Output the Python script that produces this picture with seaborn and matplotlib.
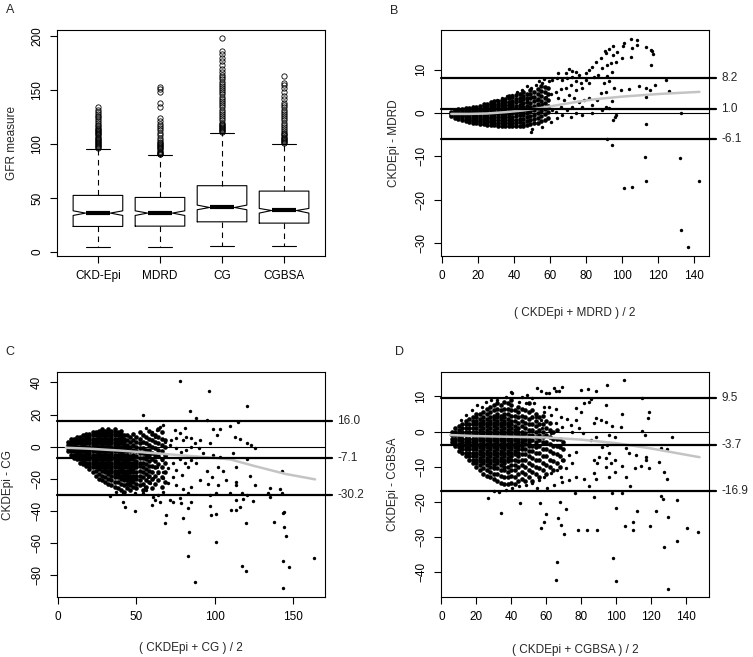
import pandas as pd
import seaborn as sns
import matplotlib.pyplot as plt
from matplotlib import transforms

# ---- panel A : box summaries ----
methods = ["CKD-Epi", "MDRD", "CG", "CGBSA"]
box_q1 = [23.6, 23.9, 27.9, 26.7]
box_med = [36.0, 36.0, 41.2, 38.4]
box_q3 = [52.4, 50.5, 61.4, 56.4]
notch_lo = [33.8, 33.8, 39.1, 36.0]
notch_hi = [38.1, 38.1, 43.4, 40.3]
whisk_lo = [4.7, 5.0, 5.6, 5.9]
whisk_hi = [95.2, 89.9, 110.7, 100.5]
outliers = [
    [96, 97, 98, 99, 100, 101, 102, 103, 104, 105, 106, 107, 108, 109, 110, 111,
     112, 113, 114, 115, 117, 118, 120, 121, 123, 125, 126, 128, 130, 132, 134.5],
    [90.5, 91, 92, 93, 94, 95, 96, 97, 98, 99, 100, 101, 102, 104, 106, 108, 110,
     113, 115, 117, 119, 121, 124, 134, 138, 148, 151, 153],
    [111.5, 112, 113, 114, 115, 116, 117, 118, 119, 120, 122, 124, 126, 128, 130,
     132, 134, 136, 138, 140, 142, 144, 146, 148, 150, 152, 154, 156, 158, 160,
     162, 164, 167, 170, 173, 177, 180, 184, 186, 198.5],
    [101, 102, 103, 104, 105, 106, 107, 108, 109, 110, 112, 114, 116, 118, 120,
     122, 124, 126, 128, 130, 132, 134, 136, 138, 142, 145, 148, 152, 155, 157, 163.5],
]

# ---- panel B : CKDEpi - MDRD ----
b_core = {
    5: [-0.7, -0.2, 0.3],
    7: [-1.1, -0.6, -0.1, 0.4, 0.8],
    9: [-1.4, -0.9, -0.4, 0.1, 0.6, 1.0],
    11: [-1.6, -1.0, -0.5, 0.0, 0.5, 1.0],
    13: [-1.9, -1.3, -0.7, -0.2, 0.3, 0.8, 1.2],
    15: [-2.1, -1.5, -0.9, -0.3, 0.2, 0.7, 1.2],
    17: [-2.3, -1.7, -1.1, -0.5, 0.0, 0.5, 1.0, 1.5],
    19: [-2.4, -1.8, -1.2, -0.6, -0.1, 0.4, 0.9, 1.4],
    21: [-2.5, -1.9, -1.3, -0.7, -0.1, 0.5, 1.0, 1.6],
    23: [-2.6, -2.0, -1.4, -0.8, -0.2, 0.4, 1.0, 1.6, 2.1],
    25: [-2.7, -2.1, -1.4, -0.8, -0.2, 0.4, 1.0, 1.6, 2.2],
    27: [-2.8, -2.1, -1.5, -0.9, -0.3, 0.3, 0.9, 1.5, 2.1, 2.6],
    29: [-2.8, -2.2, -1.5, -0.9, -0.3, 0.3, 0.9, 1.5, 2.1, 2.8],
    31: [-2.9, -2.2, -1.6, -1.0, -0.3, 0.3, 1.0, 1.6, 2.2, 2.9],
    33: [-2.9, -2.3, -1.6, -1.0, -0.3, 0.4, 1.0, 1.7, 2.4, 3.1],
    35: [-3.0, -2.3, -1.6, -0.9, -0.2, 0.5, 1.2, 1.9, 2.6, 3.3],
    37: [-3.0, -2.3, -1.6, -0.9, -0.2, 0.5, 1.2, 1.9, 2.6, 3.4, 4.0],
    39: [-3.0, -2.3, -1.5, -0.8, 0.0, 0.7, 1.4, 2.2, 2.9, 3.6],
    41: [-3.1, -2.3, -1.5, -0.7, 0.1, 0.9, 1.7, 2.5, 3.3, 4.1],
    43: [-2.9, -2.1, -1.3, -0.5, 0.3, 1.1, 1.9, 2.7, 3.5, 4.4],
    45: [-3.0, -2.2, -1.3, -0.4, 0.5, 1.4, 2.3, 3.2, 4.0, 4.8],
    47: [-2.8, -1.9, -1.0, -0.1, 0.8, 1.7, 2.6, 3.5, 4.5],
    49: [-2.6, -1.6, -0.6, 0.4, 1.4, 2.4, 3.4, 4.4, 5.3],
    51: [-2.4, -1.4, -0.4, 0.6, 1.7, 2.7, 3.7, 4.8],
    53: [-2.2, -1.1, 0.0, 1.1, 2.2, 3.3, 4.4, 5.6],
    55: [-1.9, -0.7, 0.5, 1.6, 2.8, 4.0, 5.2, 6.3],
    57: [-1.5, -0.3, 1.0, 2.3, 3.5, 4.8, 6.0],
    59: [-1.1, 0.3, 1.7, 3.1, 4.5, 5.9],
}
b_sparse = [
    (104.8, 17.1), (108.5, 16.8), (101.2, 16.3), (100.3, 15.6), (108.1, 15.8),
    (105.7, 15.0), (113.5, 15.2), (115.9, 14.6), (116.8, 14.4), (117.4, 13.6),
    (104.8, 12.9), (115.9, 11.1), (94.9, 15.4), (92.7, 14.7), (90.5, 14.4),
    (90.9, 13.8), (94.9, 13.4), (97.3, 14.0), (100.2, 12.7), (96.8, 11.9),
    (93.6, 11.5), (91.8, 11.1), (94.2, 9.6), (88.1, 12.7), (85.3, 11.9),
    (83.4, 10.7), (81.6, 10.0), (79.7, 9.3), (89.0, 10.3), (86.8, 8.8),
    (84.4, 8.4), (91.8, 8.6), (92.7, 7.5), (89.9, 6.9), (95.7, 5.7),
    (99.2, 5.3), (103.9, 5.5), (109.4, 6.3), (113.1, 5.9), (115.3, 5.3),
    (118.3, 6.5), (124.2, 7.6), (126.1, 5.2), (113.1, 3.6), (113.5, -2.5),
    (132.6, -0.1), (96.4, -0.5), (96.0, -1.0), (95.1, -1.5), (94.2, 2.9),
    (92.7, 1.1), (90.9, 1.5), (89.0, 0.7), (86.2, 3.0), (83.4, 1.9),
    (83.0, -0.1), (88.1, 4.6), (90.9, 4.9), (81.6, 3.4), (77.9, 1.5),
    (78.8, 3.0), (91.8, -6.1), (94.2, -7.3), (112.7, -10.1), (132.2, -10.3),
    (101.2, -17.3), (105.7, -17.1), (113.1, -15.7), (142.8, -15.8),
    (133.0, -27.0), (136.7, -31.0),
    (70.5, 10.1), (72.3, 9.8), (74.2, 9.6), (68.6, 9.2), (64.5, 9.3),
    (76.0, 8.8), (72.3, 8.4), (69.5, 8.0), (66.8, 7.6), (64.0, 8.0),
    (61.2, 7.6), (59.3, 7.3), (56.6, 7.8), (55.6, 6.9), (53.8, 7.3),
    (51.9, 6.5), (49.2, 5.9), (47.3, 6.3), (44.5, 5.3), (41.7, 4.9),
    (38.9, 4.2), (36.2, 3.9), (33.4, 3.4), (30.6, 3.0), (27.8, 2.2),
    (74.2, 7.3), (77.0, 6.9), (71.4, 6.5), (68.6, 5.9), (65.8, 5.5),
    (74.2, 5.3), (77.9, 5.7), (79.7, 7.6), (81.6, 6.9), (63.0, 4.9),
    (60.3, 4.4), (57.5, 3.8), (70.5, 4.2), (67.7, 3.0), (64.5, 3.4),
    (73.2, 3.4), (76.0, 2.6), (72.3, 1.5), (69.5, 0.7), (65.8, 1.5),
    (63.0, 0.3), (66.8, -0.5), (64.0, -1.2), (60.3, -2.0), (55.6, -3.2),
    (49.2, -4.3), (50.1, -3.6), (74.2, -0.1), (77.9, -0.5), (71.4, -0.8),
    (61.2, 0.7), (58.4, 1.5), (55.6, 2.2), (52.8, 3.0), (50.1, 3.8),
    (47.3, 3.0), (44.5, 2.2),
]
b_loess_x = [5, 15, 25, 35, 45, 55, 65, 75, 85, 100, 120, 143]
b_loess_y = [-0.2, -0.2, -0.1, 0.2, 0.6, 1.2, 1.9, 2.6, 3.2, 3.8, 4.4, 4.9]
b_lines = [8.2, 1.0, -6.1]

# ---- panel C : CKDEpi - CG ----
c_core = {
    6: [-3, -1, 1, 3],
    8: [-5, -3, -1, 1, 3, 4.5],
    10: [-7, -5, -3, -1, 1, 3, 5],
    12: [-8, -6, -4, -2, 0, 2, 4, 6],
    14: [-10, -8, -6, -4, -2, 0, 2, 4, 6],
    16: [-11, -9, -7, -5, -3, -1, 1, 3, 5, 7],
    18: [-12, -10, -8, -6, -4, -2, 0, 2, 4, 6, 8],
    20: [-14, -12, -10, -8, -6, -4, -2, 0, 2, 4, 6, 8],
    22: [-16, -13, -11, -9, -7, -5, -3, -1, 1, 3, 5, 7, 9],
    24: [-18, -15, -13, -11, -9, -7, -5, -3, -1, 1, 3, 5, 7, 9],
    26: [-20, -17, -14, -12, -10, -8, -6, -4, -2, 0, 2, 4, 6, 8, 10],
    28: [-21, -18, -15, -13, -11, -9, -7, -5, -3, -1, 1, 3, 5, 7, 9, 11],
    30: [-22, -19, -16, -14, -12, -10, -8, -6, -4, -2, 0, 2, 4, 6, 8, 10],
    32: [-23, -20, -17, -15, -13, -11, -9, -7, -5, -3, -1, 1, 3, 5, 7, 9, 11],
    34: [-24, -21, -18, -16, -14, -12, -10, -8, -6, -4, -2, 0, 2, 4, 6, 8, 10],
    36: [-25, -22, -19, -17, -15, -13, -11, -9, -7, -5, -3, -1, 1, 3, 5, 7, 9, 11],
    38: [-26, -22, -19, -17, -15, -13, -11, -9, -7, -5, -3, -1, 1, 3, 5, 7, 9],
    40: [-27, -23, -20, -18, -16, -14, -12, -10, -8, -6, -4, -2, 0, 2, 4, 6, 8, 10],
    42: [-28, -24, -21, -19, -17, -15, -13, -11, -9, -7, -5, -3, -1, 1, 3, 5, 7],
    44: [-26, -23, -21, -19, -17, -15, -13, -11, -9, -7, -5, -3, -1, 1, 4, 7],
    46: [-27, -24, -22, -20, -18, -16, -14, -12, -10, -8, -6, -3, 0, 3, 6],
    48: [-25, -22, -20, -18, -16, -14, -12, -10, -8, -5, -2, 1, 4, 8],
    50: [-26, -23, -20, -18, -16, -13, -11, -9, -6, -3, 0, 3, 6],
    52: [-24, -21, -18, -15, -12, -10, -7, -4, -1, 2, 5, 9],
    54: [-27, -23, -19, -16, -13, -10, -7, -4, -1, 3, 7],
    56: [-25, -21, -17, -14, -11, -8, -5, -2, 2, 6],
    58: [-22, -18, -15, -12, -9, -5, -2, 1, 5, 10],
    60: [-26, -20, -16, -12, -8, -4, 0, 4, 8],
    62: [-23, -18, -13, -9, -5, -1, 3, 7],
    64: [-21, -16, -11, -6, -2, 2, 6, 11],
    66: [-25, -19, -13, -8, -3, 1, 5, 9],
    68: [-22, -16, -10, -5, 0, 4],
}
c_sparse = [
    (77.9, 41.2), (96.4, 34.5), (120.6, 25.3), (84.0, 22.5), (54.3, 19.4),
    (87.9, 18.0), (94.7, 16.9), (114.5, 15.5), (109.6, 12.8), (99.0, 10.7),
    (103.2, 10.7), (101.1, 7.2), (112.8, 5.7), (116.0, 4.5), (120.6, 2.4),
    (123.4, 1.0), (125.5, -0.7), (96.8, 2.0), (90.0, -1.1), (92.6, -4.2),
    (99.0, -5.3), (103.2, -6.3), (111.7, -3.8), (120.6, -8.0), (113.8, -12.6),
    (142.6, -15.0), (102.1, -12.6), (105.3, -15.0), (94.7, -15.0), (88.3, -10.5),
    (83.0, -12.6), (122.3, -18.3), (97.9, -18.8), (107.4, -20.8), (113.4, -21.9),
    (125.5, -24.0), (113.4, -24.0), (102.1, -24.0), (95.7, -23.0), (90.4, -20.8),
    (85.1, -25.0), (135.1, -26.0), (141.5, -26.7), (109.6, -29.2), (120.4, -30.2),
    (117.2, -29.2), (134.0, -29.2), (142.6, -29.2), (96.8, -30.2), (100.6, -29.2),
    (113.8, -33.3), (118.1, -32.9), (124.5, -33.7), (135.5, -31.1), (83.0, -29.2),
    (77.7, -32.3), (85.1, -34.4), (78.7, -35.4), (83.0, -38.5), (73.4, -34.4),
    (71.3, -33.3), (96.8, -36.9), (100.6, -42.2), (97.4, -42.6), (110.6, -39.5),
    (113.8, -39.5), (116.0, -37.5), (79.8, -44.7), (69.1, -42.6), (68.5, -47.8),
    (83.6, -53.4), (120.2, -47.8), (137.7, -46.8), (143.2, -41.6), (144.0, -40.8),
    (144.0, -49.9), (145.7, -55.8), (100.6, -59.7), (83.0, -68.2), (163.6, -69.6),
    (143.6, -71.3), (147.4, -75.3), (117.2, -74.4), (120.2, -77.5), (87.4, -84.6),
    (143.2, -88.3), (54.3, -29.2), (48.9, -29.2), (48.9, -39.9), (41.5, -34.3),
    (42.6, -37.5), (41.5, -29.2), (33.0, -30.8), (37.2, -28.1), (60.6, -31.1),
    (56.4, -27.1), (63.8, -30.2), (67.0, -28.1), (64.9, -34.4), (61.7, -33.3),
    (59.6, -36.4),
    (74.5, 10.3), (77.7, 8.2), (80.9, 11.3), (75.5, 5.1), (79.8, 4.1),
    (81.9, 6.1), (85.1, 5.1), (72.3, 4.1), (68.1, 3.0), (64.9, 12.4),
    (67.0, 13.4), (62.8, 10.3), (59.6, 9.3), (56.4, 11.3), (61.7, 6.1),
    (87.2, 2.0), (90.4, 4.1), (85.1, 0.0), (81.9, -2.2), (78.7, -3.2),
    (75.5, -1.1), (71.3, 1.0), (88.3, -6.3), (85.1, -8.4), (80.9, -10.5),
    (77.7, -7.4), (73.4, -10.5), (70.2, -13.6), (75.5, -14.6), (79.3, -17.7),
    (73.4, -18.8), (70.2, -22.9), (75.5, -24.0), (79.8, -26.1), (67.0, -19.8),
    (63.8, -16.7), (67.0, -15.7), (69.1, -5.3), (66.0, -8.4), (62.8, -12.6),
    (60.6, -19.8), (58.5, -22.9), (55.3, -25.0), (57.4, -18.8), (59.6, -15.7),
]
c_loess_x = [5, 20, 40, 60, 80, 100, 110, 125, 145, 164]
c_loess_y = [-0.7, -1.3, -2.5, -4.0, -5.5, -7.0, -8.0, -12.0, -17.0, -20.4]
c_lines = [16.0, -7.1, -30.2]

# ---- panel D : CKDEpi - CGBSA ----
d_core = {
    6: [-3, -2, -1, 0],
    8: [-4, -3, -2, -1, 0, 1],
    10: [-5.5, -4.5, -3.5, -2.5, -1.5, -0.5, 0.5, 1.5],
    12: [-6, -5, -4, -3, -2, -1, 0, 1, 2],
    14: [-7, -6, -5, -4, -3, -2, -1, 0, 1, 2, 3],
    16: [-8, -7, -6, -5, -4, -3, -2, -1, 0, 1, 2, 3.5],
    18: [-9, -8, -7, -6, -5, -4, -3, -2, -1, 0, 1, 2, 3, 4],
    20: [-10, -9, -8, -7, -6, -5, -4, -3, -2, -1, 0, 1, 2, 3, 4, 5],
    22: [-11, -9.5, -8.5, -7.5, -6.5, -5.5, -4.5, -3.5, -2.5, -1.5, -0.5, 0.5,
         1.5, 2.5, 3.5, 5],
    24: [-12, -10.5, -9, -8, -7, -6, -5, -4, -3, -2, -1, 0, 1, 2, 3, 4, 5.5],
    26: [-12.5, -11, -9.5, -8.5, -7.5, -6.5, -5.5, -4.5, -3.5, -2.5, -1.5, -0.5,
         0.5, 1.5, 2.5, 3.5, 5, 6.5],
    28: [-13, -11.5, -10, -9, -8, -7, -6, -5, -4, -3, -2, -1, 0, 1, 2, 3, 4,
         5.5, 7],
    30: [-13.5, -12, -10.5, -9.5, -8.5, -7.5, -6.5, -5.5, -4.5, -3.5, -2.5,
         -1.5, -0.5, 0.5, 1.5, 2.5, 3.5, 4.5, 6, 7.5],
    32: [-14, -12, -10.5, -9, -8, -7, -6, -5, -4, -3, -2, -1, 0, 1, 2, 3, 4, 5,
         6.5, 8],
    34: [-14.5, -12.5, -11, -9.5, -8.5, -7.5, -6.5, -5.5, -4.5, -3.5, -2.5,
         -1.5, -0.5, 0.5, 1.5, 2.5, 3.5, 4.5, 6, 7.5],
    36: [-15, -13, -11, -10, -9, -8, -7, -6, -5, -4, -3, -2, -1, 0, 1, 2, 3, 4,
         5, 6.5, 8.5],
    38: [-15, -13, -11.5, -10, -8.5, -7.5, -6.5, -5.5, -4.5, -3.5, -2.5, -1.5,
         -0.5, 0.5, 1.5, 2.5, 3.5, 5, 6.5, 8],
    40: [-14.5, -12.5, -11, -9.5, -8, -7, -6, -5, -4, -3, -2, -1, 0, 1, 2, 3,
         4.5, 6, 7.5, 9],
    42: [-15, -13, -11, -9.5, -8, -6.5, -5.5, -4.5, -3.5, -2.5, -1.5, -0.5,
         0.5, 1.5, 3, 4.5, 6],
    44: [-14, -12, -10, -8.5, -7, -6, -5, -4, -3, -2, -1, 0, 1, 2.5, 4, 5.5, 7],
    46: [-13.5, -11.5, -9.5, -8, -6.5, -5, -4, -3, -2, -1, 0, 1.5, 3, 4.5, 6.5],
    48: [-14, -12, -10, -8, -6.5, -5, -3.5, -2.5, -1.5, -0.5, 1, 2.5, 4, 6],
    50: [-13, -11, -9, -7, -5.5, -4, -3, -2, -1, 0.5, 2, 3.5, 5.5, 8],
    52: [-14, -11.5, -9.5, -7.5, -5.5, -4, -2.5, -1, 0.5, 2, 4, 6],
    54: [-12, -10, -8, -6, -4.5, -3, -1.5, 0, 1.5, 3, 5],
    56: [-13, -10.5, -8, -6, -4, -2.5, -1, 0.5, 2, 4],
    58: [-11, -9, -7, -5, -3, -1.5, 0, 2, 4.5],
    60: [-12, -9.5, -7, -5, -3, -1, 1, 3],
    62: [-10, -8, -5.5, -3.5, -1.5, 0.5, 2.5],
    64: [-11, -8.5, -6, -4, -2, 0],
    66: [-9, -6.5, -4, -2, 0.5],
    68: [-10, -7, -4.5, -2],
    70: [-8, -5, -3],
}
d_sparse = [
    (104.7, 14.6), (94.7, 13.2), (69.3, 12.7), (64.6, 12.3), (55.0, 12.3),
    (65.6, 11.5), (67.4, 11.5), (57.3, 11.6), (60.2, 11.0), (61.7, 10.8),
    (79.8, 11.8), (84.1, 12.1), (88.4, 11.5), (84.6, 8.5), (81.7, 8.0),
    (86.0, 9.1), (94.1, 7.5), (115.2, 9.6), (77.0, 6.6), (79.8, 5.6),
    (103.7, 4.9), (118.9, 5.6), (118.5, 3.8), (91.3, 3.3), (88.4, 3.8),
    (94.1, 2.8), (87.4, 2.3), (98.0, 1.6), (102.7, 1.2), (114.8, 0.2),
    (116.7, -1.0), (132.4, -1.7), (96.1, -1.0), (99.8, -1.5), (88.4, -1.5),
    (85.6, -2.4), (92.2, -4.3), (95.1, -3.8), (105.6, -4.6), (125.7, -4.6),
    (129.5, -5.1), (107.5, -6.2), (111.3, -6.7), (96.1, -6.2), (90.3, -7.1),
    (94.1, -7.6), (99.8, -8.1), (87.5, -8.1), (117.1, -7.1), (117.5, -8.1),
    (124.7, -8.6), (118.9, -10.5), (114.2, -9.7), (103.7, -9.8), (94.1, -10.0),
    (89.4, -9.0), (97.0, -9.0), (99.8, -11.4), (96.1, -12.8), (105.6, -12.8),
    (110.8, -10.4), (127.6, -11.4), (129.5, -13.6), (107.9, -15.4), (87.5, -11.7),
    (88.4, -13.6), (81.7, -13.6), (77.0, -12.8), (84.6, -15.6), (73.1, -13.8),
    (69.3, -14.3), (76.6, -17.4), (87.5, -18.5), (97.6, -17.4), (103.7, -17.4),
    (125.7, -18.2), (127.0, -19.2), (135.2, -19.5), (67.8, -19.9), (56.5, -20.4),
    (44.9, -20.4), (26.5, -18.9), (34.4, -23.1), (60.2, -23.5), (59.1, -25.6),
    (57.3, -27.5), (71.2, -22.0), (67.0, -24.5), (68.4, -26.6), (70.3, -29.0),
    (78.5, -28.0), (83.3, -28.0), (89.0, -28.0), (99.9, -21.6), (105.2, -26.7),
    (112.3, -22.6), (109.8, -25.7), (109.8, -28.0), (119.6, -26.7), (122.8, -22.5),
    (129.9, -24.2), (141.0, -27.5), (147.2, -28.6), (135.2, -31.0), (127.6, -32.9),
    (66.1, -37.2), (98.4, -36.0), (65.5, -42.2), (99.9, -42.5), (130.1, -44.6),
    (39.7, 11.3), (40.7, 10.8), (36.9, 9.9), (28.3, 9.0), (25.4, 8.5),
    (32.1, 9.0), (20.6, 7.5), (23.5, 6.9), (17.8, 6.1), (13.9, 4.7),
    (11.1, 3.3), (46.4, 9.9), (49.3, 10.4), (52.1, 9.4), (44.5, 8.5),
    (48.3, 8.0), (53.1, 8.0), (58.9, 7.1), (61.7, 6.9), (65.5, 6.3),
    (58.8, 5.6), (62.6, 4.7), (68.4, 4.2), (72.2, 3.5), (77.0, 3.3),
    (74.2, 1.9), (79.0, 0.9), (75.1, 0.0), (81.1, -0.5), (69.3, 1.4),
    (65.5, 2.3), (56.9, 3.3), (54.1, 4.2), (57.9, 0.9), (62.6, -0.5),
    (77.0, -5.7), (73.1, -6.7), (69.3, -8.1), (75.1, -9.0), (71.2, -10.5),
    (66.5, -10.9), (62.6, -11.9), (58.8, -12.8), (56.0, -13.8), (52.1, -14.7),
    (48.3, -15.2), (44.5, -15.6), (40.7, -16.1), (36.9, -16.6), (33.0, -17.1),
    (30.2, -16.8), (60.7, -16.1), (64.6, -15.2), (68.4, -12.8), (55.0, -16.1),
]
d_loess_x = [5, 20, 40, 60, 80, 100, 120, 148]
d_loess_y = [-1.0, -1.3, -1.5, -1.7, -2.3, -3.3, -4.8, -7.3]
d_lines = [9.5, -3.7, -16.9]

FS = 8.5
sns.set_theme(style="ticks", rc={"axes.edgecolor": "black", "axes.linewidth": 0.8,
                                 "xtick.color": "black", "ytick.color": "black"})
plt.rcParams["font.family"] = ["Liberation Sans", "DejaVu Sans"]
plt.rcParams["font.size"] = FS

W, H = 753, 657
fig = plt.figure(figsize=(W / 100, H / 100), dpi=100)


def px_axes(left, top, right, bottom):
    return fig.add_axes([left / W, 1 - bottom / H, (right - left) / W, (bottom - top) / H])


def style_axes(ax):
    for s in ax.spines.values():
        s.set_color("black")
        s.set_linewidth(0.8)
    ax.tick_params(axis="both", direction="out", length=5, width=0.8,
                   labelsize=FS, pad=5, colors="black")
    plt.setp(ax.get_yticklabels(), rotation=90, va="center")


def core_points(core):
    xs, ys = [], []
    for x, col in core.items():
        xs += [x] * len(col)
        ys += col
    return xs, ys


def bland_altman(ax, core, sparse, lx, ly, lines, xlim, ylim, xticks, yticks,
                 xlabel, ylabel):
    cx, cy = core_points(core)
    sx, sy = zip(*sparse)
    core_df = pd.DataFrame({"x": cx, "y": cy})
    sparse_df = pd.DataFrame({"x": sx, "y": sy})
    # dense centre of the cloud, then the scattered points around it
    sns.scatterplot(data=core_df, x="x", y="y", ax=ax, s=11, color="black",
                    linewidth=0, zorder=3)
    sns.scatterplot(data=sparse_df, x="x", y="y", ax=ax, s=6, color="black",
                    linewidth=0, zorder=3)
    ax.axhline(0, color="black", lw=0.8, zorder=2)
    sns.lineplot(x=lx, y=ly, ax=ax, color="#c4c4c4", lw=1.8, zorder=4)
    trans = transforms.blended_transform_factory(ax.transAxes, ax.transData)
    for v in lines:
        ax.axhline(v, xmin=0, xmax=1.026, color="black", lw=1.6, clip_on=False, zorder=5)
        ax.text(1.045, v, f"{v:.1f}", transform=trans, ha="left", va="center",
                fontsize=FS, clip_on=False)
    ax.set_xlim(xlim)
    ax.set_ylim(ylim)
    ax.set_xticks(xticks)
    ax.set_yticks(yticks)
    ax.set_xlabel(xlabel, fontsize=FS)
    ax.set_ylabel(ylabel, fontsize=FS)
    style_axes(ax)


# A
axA = px_axes(57, 30, 325, 256)
stats = []
for i, m in enumerate(methods):
    stats.append(dict(label=m, q1=box_q1[i], med=box_med[i], q3=box_q3[i],
                      cilo=notch_lo[i], cihi=notch_hi[i],
                      whislo=whisk_lo[i], whishi=whisk_hi[i], fliers=outliers[i]))
axA.bxp(stats, positions=[1, 2, 3, 4], widths=0.8, shownotches=True,
        capwidths=0.4, manage_ticks=False,
        boxprops=dict(color="black", lw=0.8),
        medianprops=dict(color="black", lw=3, solid_capstyle="butt"),
        whiskerprops=dict(color="black", lw=0.8, linestyle=(0, (5, 4))),
        capprops=dict(color="black", lw=0.8),
        flierprops=dict(marker="o", markersize=3.8, markerfacecolor="none",
                        markeredgecolor="black", markeredgewidth=0.6))
axA.set_xlim(0.34, 4.66)
axA.set_ylim(-3.8, 205.8)
axA.set_xticks([1, 2, 3, 4])
axA.set_xticklabels(methods)
axA.set_yticks([0, 50, 100, 150, 200])
axA.set_ylabel("GFR measure", fontsize=FS)
style_axes(axA)

# B
axB = px_axes(441, 30, 709, 256)
bland_altman(axB, b_core, b_sparse, b_loess_x, b_loess_y, b_lines,
             (-0.7, 148.3), (-33.05, 19.2), range(0, 141, 20), [-30, -20, -10, 0, 10],
             "( CKDEpi + MDRD ) / 2", "CKDEpi - MDRD")

# C
axC = px_axes(57, 372, 325, 597)
bland_altman(axC, c_core, c_sparse, c_loess_x, c_loess_y, c_lines,
             (-0.7, 170.3), (-93.7, 46.5), [0, 50, 100, 150], range(-80, 41, 20),
             "( CKDEpi + CG ) / 2", "CKDEpi - CG")

# D
axD = px_axes(441, 372, 709, 597)
bland_altman(axD, d_core, d_sparse, d_loess_x, d_loess_y, d_lines,
             (-0.2, 153.4), (-47.0, 16.9), range(0, 141, 20), range(-40, 11, 10),
             "( CKDEpi + CGBSA ) / 2", "CKDEpi - CGBSA")

axA.yaxis.set_label_coords(-0.168, 0.5)
axB.yaxis.set_label_coords(-0.175, 0.5)
axC.yaxis.set_label_coords(-0.183, 0.5)
axD.yaxis.set_label_coords(-0.18, 0.5)
for ax, off in [(axB, -0.252), (axC, -0.227), (axD, -0.236)]:
    ax.xaxis.set_label_coords(0.5, off)
    ax.xaxis.label.set_va("center")
for ax in [axA, axB, axC, axD]:
    ax.yaxis.label.set_va("center")

for letter, x, y in [("A", 10, 10), ("B", 394, 11), ("C", 10, 352), ("D", 399, 352)]:
    fig.text(x / W, 1 - y / H, letter, fontsize=FS + 0.5, ha="center", va="center")

fig.savefig("out.png", dpi=100)
